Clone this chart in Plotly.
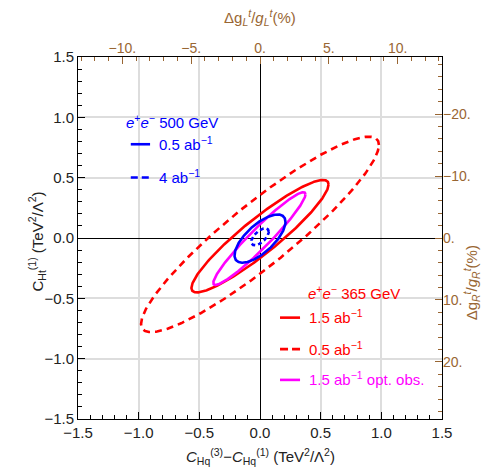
import numpy as np
import plotly.graph_objects as go

# ---- data: confidence ellipses (center, widths, correlation) ----
names      = ["ee365_1.5", "ee365_0.5", "ee365_opt", "ee500_0.5", "ee500_4"]
center_x   = [0.0,   0.0,   -0.005, 0.0,    0.0]
center_y   = [0.015, 0.03,  -0.005, -0.005, 0.01]
sigma_x    = [0.565, 0.98,  0.38,   0.21,   0.072]
sigma_y    = [0.466, 0.81,  0.385,  0.20,   0.070]
rho        = [0.92,  0.915, 0.955,  0.69,   0.60]
colors     = ["#FF0000", "#FF0000", "#FF00FF", "#0000FF", "#0000FF"]
dashes     = ["solid", "7px,5px", "solid", "solid", "4px,3px"]

# axis ticks
x_ticks = [-1.5, -1.0, -0.5, 0.0, 0.5, 1.0, 1.5]
y_ticks = [-1.5, -1.0, -0.5, 0.0, 0.5, 1.0, 1.5]
top_ticks = [-10, -5, 0, 5, 10]
top_labels = ["\u221210.", "\u22125.", "0.", "5.", "10."]
right_ticks = [-20, -10, 0, 10, 20]
right_labels = ["\u221220.", "\u221210.", "0.", "10.", "20."]
top_range = [-13.22, 13.22]      # Δg_L/g_L (%) across x range
right_range = [29.2, -29.2]      # Δg_R/g_R (%) bottom -> top

BROWN = "#996633"
FONT = "Liberation Sans, Arial, sans-serif"
FS = 15

fig = go.Figure()
t = np.linspace(0, 2 * np.pi, 361)
for i in range(len(names)):
    xs = center_x[i] + sigma_x[i] * np.cos(t)
    ys = center_y[i] + sigma_y[i] * (rho[i] * np.cos(t) + np.sqrt(1 - rho[i] ** 2) * np.sin(t))
    fig.add_trace(go.Scatter(x=xs, y=ys, mode="lines", name=names[i], showlegend=False,
                             line=dict(color=colors[i], width=2.6, dash=dashes[i]),
                             hoverinfo="skip"))

# empty trace so the secondary axes exist
fig.add_trace(go.Scatter(x=[], y=[], xaxis="x2", yaxis="y2", showlegend=False))

tickfont = dict(family=FONT, size=FS, color="#222222")
common = dict(ticks="inside", ticklen=7, tickcolor="black", tickwidth=1,
              minor=dict(dtick=0.1, ticks="inside", ticklen=4, tickcolor="black", showgrid=False),
              showline=True, linecolor="black", linewidth=1, mirror=True,
              showgrid=True, gridcolor="#dddddd", gridwidth=1.5,
              zeroline=True, zerolinecolor="black", zerolinewidth=1,
              tickfont=tickfont, automargin=False, tickformat=".1f")
fig.update_layout(
    width=484, height=468,
    margin=dict(l=78, r=42, t=57, b=49),
    paper_bgcolor="white", plot_bgcolor="white",
    font=dict(family=FONT, size=FS, color="#222222"),
    xaxis=dict(range=[-1.5, 1.5], tickvals=x_ticks, **common),
    yaxis=dict(range=[-1.5, 1.5], tickvals=y_ticks, **common),
    xaxis2=dict(overlaying="x", side="top", anchor="y", range=top_range,
                tickvals=top_ticks, ticktext=top_labels, automargin=False,
                ticks="inside", ticklen=7, tickcolor=BROWN, tickwidth=1,
                minor=dict(dtick=1, ticks="inside", ticklen=4, tickcolor=BROWN, showgrid=False),
                showline=False, showgrid=False, zeroline=False,
                tickfont=dict(family=FONT, size=FS - 1, color=BROWN)),
    yaxis2=dict(overlaying="y", side="right", anchor="x", range=right_range,
                tickvals=right_ticks, ticktext=right_labels, automargin=False,
                ticks="inside", ticklen=7, tickcolor=BROWN, tickwidth=1,
                minor=dict(dtick=2, ticks="inside", ticklen=4, tickcolor=BROWN, showgrid=False),
                showline=False, showgrid=False, zeroline=False,
                tickfont=dict(family=FONT, size=FS - 1, color=BROWN)),
)

def text(x, y, s, color, size=FS, xanchor="left", angle=0):
    fig.add_annotation(xref="paper", yref="paper", x=x, y=y, text=s, showarrow=False,
                       xanchor=xanchor, yanchor="middle", textangle=angle,
                       font=dict(family=FONT, size=size, color=color))

# axis titles
text(0.5, -0.103, "<i>C</i><sub>Hq</sub><sup>(3)</sup>\u2212<i>C</i><sub>Hq</sub><sup>(1)</sup> (TeV<sup>2</sup>/\u039b<sup>2</sup>)",
     "#222222", xanchor="center")
text(-0.113, 0.49, "C<sub>Ht</sub><sup>(1)</sup> (TeV<sup>2</sup>/\u039b<sup>2</sup>)", "#222222",
     xanchor="center", angle=-90)
text(0.5, 1.108, "\u0394g<sub><i>L</i></sub><sup><i>t</i></sup>/<i>g</i><sub><i>L</i></sub><sup><i>t</i></sup>(%)",
     BROWN, xanchor="center")
text(1.08, 0.375, "\u0394g<sub><i>R</i></sub><sup><i>t</i></sup>/<i>g</i><sub><i>R</i></sub><sup><i>t</i></sup>(%)",
     BROWN, xanchor="center", angle=-90)

# ---- legend blocks (annotations + sample lines in paper coords) ----
def legend_line(x0, x1, y, color, dash):
    fig.add_shape(type="line", xref="paper", yref="paper", x0=x0, x1=x1, y0=y, y1=y,
                  line=dict(color=color, width=2.6, dash=dash))

text(0.127, 0.823, "<i>e</i><sup>+</sup><i>e</i><sup>\u2212</sup> 500 GeV", "#0000FF")
legend_line(0.145, 0.198, 0.759, "#0000FF", "solid")
text(0.216, 0.762, "0.5 ab<sup>\u22121</sup>", "#0000FF")
legend_line(0.145, 0.198, 0.667, "#0000FF", "7px,4px")
text(0.216, 0.670, "4 ab<sup>\u22121</sup>", "#0000FF")

text(0.626, 0.350, "<i>e</i><sup>+</sup><i>e</i><sup>\u2212</sup> 365 GeV", "#FF0000")
legend_line(0.555, 0.610, 0.280, "#FF0000", "solid")
text(0.628, 0.283, "1.5 ab<sup>\u22121</sup>", "#FF0000")
legend_line(0.555, 0.610, 0.193, "#FF0000", "8px,4px")
text(0.628, 0.196, "0.5 ab<sup>\u22121</sup>", "#FF0000")
legend_line(0.555, 0.610, 0.108, "#FF00FF", "solid")
text(0.628, 0.111, "1.5 ab<sup>\u22121</sup> opt. obs.", "#FF00FF")

fig.write_html("out.html")
